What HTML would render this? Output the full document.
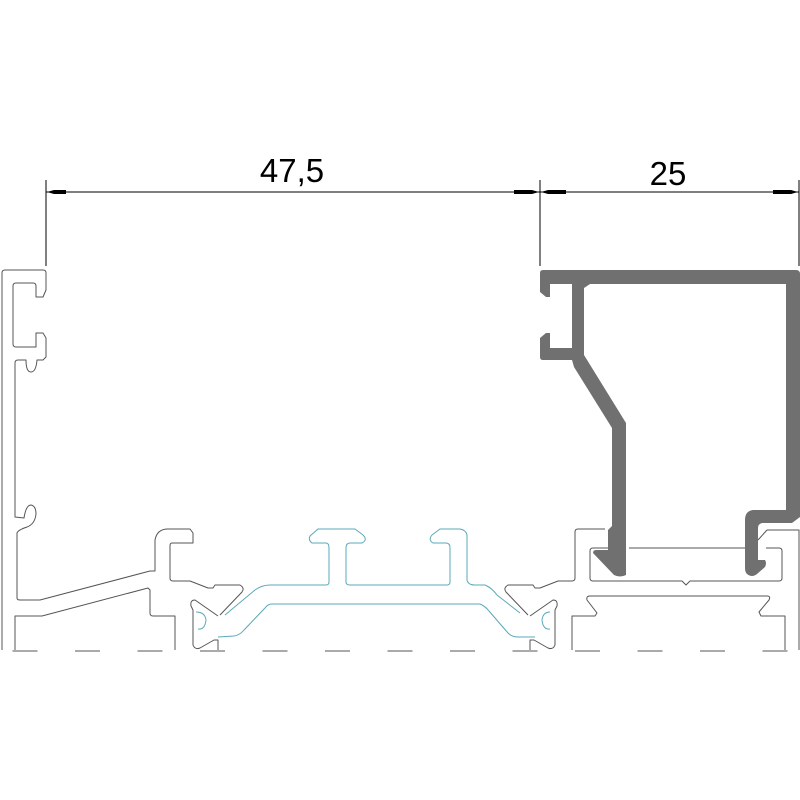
<!DOCTYPE html>
<html><head><meta charset="utf-8"><style>
html,body{margin:0;padding:0;background:#fff;}
svg{display:block;}
</style></head><body>
<svg width="800" height="800" viewBox="0 0 800 800" xmlns="http://www.w3.org/2000/svg">
<rect width="800" height="800" fill="#fff"/>
<!-- dimensions -->
<g stroke="#000" stroke-width="1" fill="none">
<line x1="46" y1="180" x2="46" y2="266"/>
<line x1="540" y1="180" x2="540" y2="266"/>
<line x1="799" y1="180" x2="799" y2="266"/>
<line x1="46" y1="192" x2="799" y2="192"/>
</g>
<g fill="#000">
<polygon points="47,192 54,190 66,190 66,194 54,194"/>
<polygon points="539,192 532,190 514,190 514,194 532,194"/>
<polygon points="541,192 548,190 566,190 566,194 548,194"/>
<polygon points="798,192 791,190 773,190 773,194 791,194"/>
</g>
<text x="292" y="182" font-family="Liberation Sans, sans-serif" font-size="33" text-anchor="middle">47,5</text>
<text x="668" y="185" font-family="Liberation Sans, sans-serif" font-size="33" text-anchor="middle">25</text>

<!-- dashed base -->
<line x1="0" y1="651" x2="800" y2="651" stroke="#555" stroke-width="1" stroke-dasharray="25 37.5" stroke-dashoffset="50"/>

<!-- left gray profile -->
<g stroke="#555" stroke-width="1" fill="none" stroke-linejoin="round">
<path d="M2,650 L2,273 Q2,270 5,270 L43,270 Q46,270 46,273 L46,290 L43,297 L36,297 L36,286 Q36,283 33,283 L16,283 Q13,283 13,286 L13,344 Q13,347 16,347 L36,347 L36,333 L43,333 L46,338 L46,357 L43,360 L37,360 Q36,372 31,372 Q26,372 26,360 L18,360 Q15,360 15,363 L15,517 L24,518 Q26,505 31,505 Q36,506 36,514 Q35,524 27,527 Q18,530 17,533 L17,598 Q17,600 20,600 L40,600 L150,571 L155,571 L155,540 Q157,529 168,529 L190,529 L193,533 L193,543 L172,543 Q170,543 170,546 L170,578 Q170,581 173,581 L190,581 L208,588 L213,588 L215,585 L240,585 Q245,588 242,592 L220,615"/>
<path d="M15,650 L15,616 L42,616 L148,588 L150,590 L150,613 Q150,616 153,616 L175,616 L175,650"/>
<path d="M218,616 L195,600 Q190,600 191,606 L193,610 L193,645 Q195,650 200,648 L214,640 L218,640 L218,650"/>
<!-- right clip gray -->
<path d="M530,616 L553,600 Q558,600 557,606 L555,610 L555,645 Q553,650 548,648 L534,640 L530,640 L530,650"/>
<path d="M528,615 L506,592 Q503,588 508,585 L533,585 L535,588 L540,588 L558,581 L572,581 Q575,581 575,578 L575,532 Q575,529 578,529 L605,529"/>
<path d="M593,548 L608,548 M629,548 L746,548 M766,548 L779,548 Q782,548 782,551 L782,578 Q782,581 779,581 L690,581 L686,585 L682,581 L593,581 Q590,581 590,578 L590,551 Q590,548 593,548"/>
<path d="M767,530 L799,530 L799,650"/>
<path d="M767,530 L758,540"/>
<path d="M572,650 L572,616 L595,616 L597,613 L587,600 Q586,596 590,596 L767,596 Q771,596 769,600 L759,612 L761,616 L785,616 L785,650"/>
</g>

<!-- cyan profile -->
<g stroke="#5aa9b8" stroke-width="1" fill="none" stroke-linejoin="round">
<path d="M225,615 L255,590 Q262,585 270,585 L326,585 Q329,585 329,582 L329,548 Q329,543 326,543 L312,543 Q308,540 310,536 L318,529 L355,529 L363,535 Q368,540 362,543 L350,543 Q346,543 346,548 L346,582 Q346,585 350,585 L447,585 Q450,585 450,582 L450,548 Q450,543 446,543 L433,543 Q428,540 432,535 L440,529 L460,529 Q466,530 467,535 L467,580 Q468,585 475,585 L485,585 Q492,588 497,595 L520,613"/>
<path d="M218,637 L234,636 Q240,635 244,630 L265,608 Q268,604 272,604 L480,604 Q485,606 489,611 L508,633 Q512,637 518,637 L535,637"/>
<path d="M196,612 Q205,612 206,620 Q205,630 198,629"/>
<path d="M550,612 Q543,612 542,620 Q543,630 550,629"/>
</g>

<!-- dark right profile -->
<g fill="#707070" stroke="none">
<path d="M543,270 L796,270 Q800,270 800,274 L800,517 L792,523 L762,523 Q758,524 758,528 L758,560 L765,560 Q767,563 765,567 L757,574 Q752,578 747,574 Q745,572 745,568 L745,520 Q745,511 753,510 L786,510 L786,284 L590,284 L584,288 L584,355 L626,423 L626,575 Q620,578 614,575 L593,553 Q593,550 596,550 L608,550 L608,530 L612,526 L612,428 L574,367 L572,360 L543,360 Q540,360 540,357 L540,338 L546,333 L550,333 L550,348 L572,348 L572,284 L550,284 L550,297 L546,297 L540,292 L540,273 Q540,270 543,270 Z"/>
</g>
</svg>
</body></html>
